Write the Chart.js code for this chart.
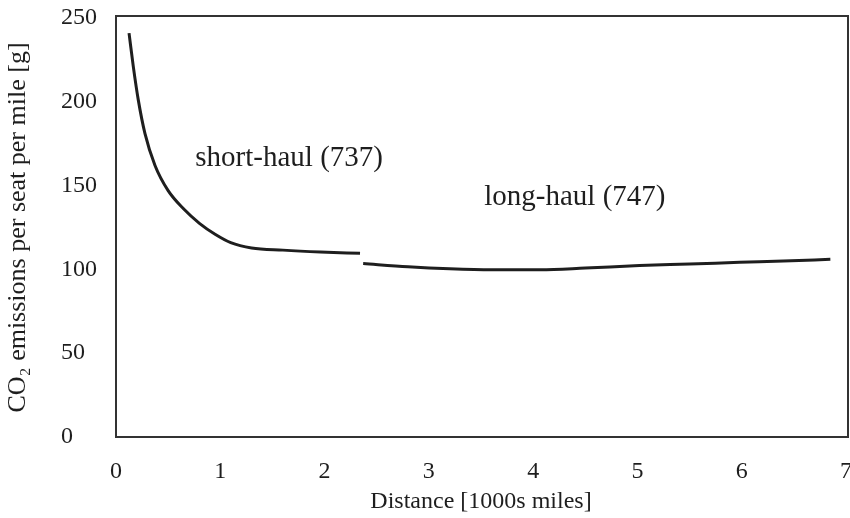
<!DOCTYPE html>
<html>
<head>
<meta charset="utf-8">
<script src="https://cdn.jsdelivr.net/npm/chart.js@4.4.1/dist/chart.umd.min.js"></script>
<style>
   html, body { margin: 0; padding: 0; background: #fff; }
   #wrap { width: 850px; height: 518px; }
</style>
</head>
<body>
<div id="wrap"><canvas id="co2Chart" width="850" height="518"></canvas></div>
<script>
// Values
const shortHaulX = [0.125, 0.166, 0.214, 0.278, 0.374, 0.5, 0.65, 0.8, 0.95, 1.1, 1.3, 1.6, 1.96, 2.34];
const shortHaulY = [241, 221, 201, 181, 162, 147, 136, 127.5, 121, 116, 112.8, 111.5, 110.4, 109.6];
const longHaulX = [2.37, 2.8, 3.2, 3.6, 4.07, 4.5, 5.02, 5.5, 5.98, 6.4, 6.85];
const longHaulY = [103.5, 101.6, 100.4, 99.8, 99.8, 100.8, 102.3, 103.2, 104.2, 105.0, 106.0];
const xTicks = [0, 1, 2, 3, 4, 5, 6, 7];
const yTicks = [0, 50, 100, 150, 200, 250];
const seriesLabels = ["short-haul (737)", "long-haul (747)"];
const yTitle = "CO₂ emissions per seat per mile [g]";

const FONT = "'Liberation Serif', 'DejaVu Serif', serif";
const INK = "#1e1e1e";

function toPoints(xs, ys) {
   return xs.map((x, i) => ({ x: x, y: ys[i] }));
}

// Draws the full frame around the plot area
const frameBox = {
   id: "frameBox",
   afterDraw(chart) {
      const a = chart.chartArea;
      const ctx = chart.ctx;
      ctx.save();
      ctx.strokeStyle = "#333";
      ctx.lineWidth = 2;
      ctx.strokeRect(a.left, a.top - 2, a.right - a.left + 2, a.bottom - a.top + 2);
      ctx.restore();
   },
};

// Vertical axis title, kept outside the left-aligned tick labels
const sideTitle = {
   id: "sideTitle",
   afterDraw(chart, args, opts) {
      const a = chart.chartArea;
      const ctx = chart.ctx;
      ctx.save();
      ctx.translate(opts.x, (a.top + a.bottom) / 2);
      ctx.rotate(-Math.PI / 2);
      ctx.font = "26px " + FONT;
      ctx.fillStyle = INK;
      ctx.textAlign = "center";
      ctx.textBaseline = "middle";
      ctx.fillText(opts.text, 0, 0);
      ctx.restore();
   },
};

// Series names written inside the plot, placed in data coordinates
const seriesNotes = {
   id: "seriesNotes",
   afterDatasetsDraw(chart, args, opts) {
      const ctx = chart.ctx;
      const xs = chart.scales.x;
      const ys = chart.scales.y;
      ctx.save();
      ctx.font = "29px " + FONT;
      ctx.fillStyle = INK;
      ctx.textAlign = "center";
      ctx.textBaseline = "middle";
      opts.notes.forEach((n) => {
         ctx.fillText(n.text, xs.getPixelForValue(n.x), ys.getPixelForValue(n.y));
      });
      ctx.restore();
   },
};

const ctx = document.getElementById("co2Chart").getContext("2d");
new Chart(ctx, {
   type: "scatter",
   data: {
      datasets: [
         {
            label: seriesLabels[0],
            data: toPoints(shortHaulX, shortHaulY),
            showLine: true,
            borderColor: INK,
            borderWidth: 3,
            pointRadius: 0,
            cubicInterpolationMode: "monotone",
         },
         {
            label: seriesLabels[1],
            data: toPoints(longHaulX, longHaulY),
            showLine: true,
            borderColor: INK,
            borderWidth: 3,
            pointRadius: 0,
            cubicInterpolationMode: "monotone",
         },
      ],
   },
   options: {
      responsive: false,
      animation: false,
      layout: { padding: { top: 18, right: 4, left: 61, bottom: 0 } },
      plugins: {
         legend: { display: false },
         tooltip: { enabled: false },
         sideTitle: { text: yTitle, x: 18 },
         seriesNotes: {
            notes: [
               { text: seriesLabels[0], x: 1.66, y: 166 },
               { text: seriesLabels[1], x: 4.4, y: 143 },
            ],
         },
      },
      scales: {
         x: {
            type: "linear",
            min: 0,
            max: 7,
            afterFit: (scale) => {
               scale.height = 81;
               scale.paddingLeft = 0;
               scale.paddingRight = 0;
            },
            afterBuildTicks: (scale) => { scale.ticks = xTicks.map((v) => ({ value: v })); },
            grid: { display: false, drawTicks: false },
            border: { display: false },
            ticks: { padding: 20, color: INK, font: { family: FONT, size: 24 } },
            title: {
               display: true,
               text: "Distance [1000s miles]",
               color: INK,
               font: { family: FONT, size: 24 },
               padding: { top: 0, bottom: 2 },
            },
         },
         y: {
            type: "linear",
            min: 0,
            max: 250,
            afterFit: (scale) => {
               scale.width = 55;
               scale.paddingTop = 0;
               scale.paddingBottom = 0;
            },
            afterBuildTicks: (scale) => { scale.ticks = yTicks.map((v) => ({ value: v })); },
            grid: { display: false, drawTicks: false },
            border: { display: false },
            ticks: { padding: 17, crossAlign: "far", color: INK, font: { family: FONT, size: 24 } },
         },
      },
   },
   plugins: [frameBox, sideTitle, seriesNotes],
});
</script>
</body>
</html>
